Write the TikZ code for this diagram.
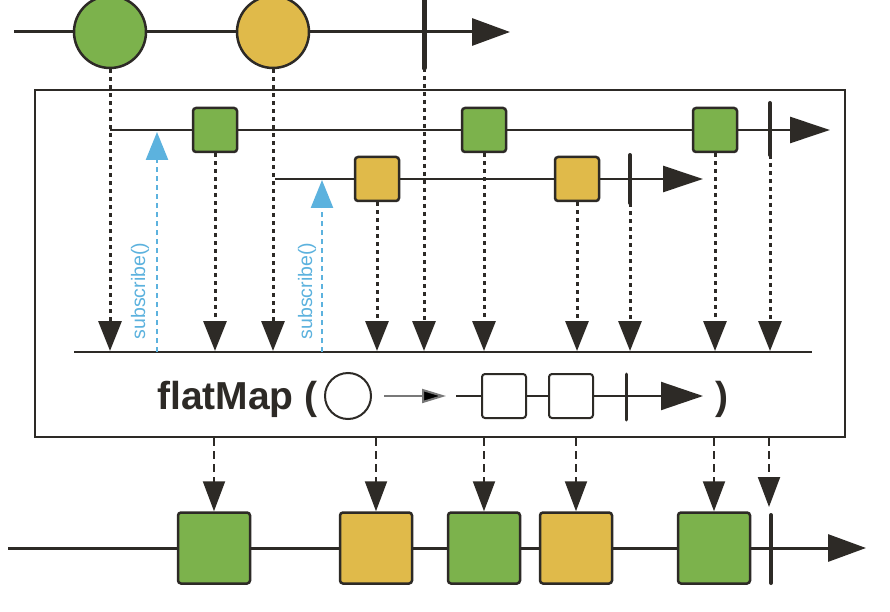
\documentclass[tikz,border=0pt]{standalone}
\usepackage{fontspec}
\setmainfont{Liberation Sans}
\usetikzlibrary{arrows.meta}
\definecolor{ink}{RGB}{45,42,38}
\definecolor{mgreen}{RGB}{124,178,76}
\definecolor{myellow}{RGB}{224,186,74}
\definecolor{mblue}{RGB}{92,178,222}
\definecolor{mgray}{RGB}{120,120,120}
\tikzset{
  axis/.style={draw=ink, line width=3pt},
  bigtip/.style={-{Triangle[width=27pt,length=38pt]}},
  midtip/.style={-{Triangle[width=26pt,length=40pt]}},
  ball/.style={circle, draw=ink, line width=2.5pt, minimum size=72pt, inner sep=0pt},
  sq/.style={rectangle, rounded corners=3pt, draw=ink, line width=2.5pt, minimum size=44pt, inner sep=0pt},
  bigsq/.style={rectangle, rounded corners=3pt, draw=ink, line width=2.5pt, minimum width=72pt, minimum height=71pt, inner sep=0pt},
  endbar/.style={draw=ink, line width=5pt, line cap=round},
  dotarr/.style={draw=ink, line width=3pt, dash pattern=on 4pt off 4pt, -{Triangle[width=23pt,length=30pt]}, shorten >=1pt},
  dasharr/.style={draw=ink, line width=2pt, dash pattern=on 8pt off 5pt, -{Triangle[width=22pt,length=30pt]}},
  subarr/.style={draw=mblue, line width=2.5pt, dash pattern=on 5pt off 4pt, -{Triangle[width=22pt,length=28pt,fill=mblue]}},
  sublabel/.style={text=mblue, font=\fontsize{19.5}{21}\selectfont, rotate=90, inner sep=0pt},
  fmtext/.style={text=ink, font=\bfseries\fontsize{39}{42}\selectfont, inner sep=0pt},
}
\begin{document}
\begin{tikzpicture}[x=1pt,y=-1pt]
\useasboundingbox (0,0) rectangle (890,612);
\fill[white] (0,0) rectangle (890,612);

% ---- top source stream
\coordinate (tstart) at (14,32);
\coordinate (tend) at (510,32);
\draw[axis, bigtip] (tstart) -- (tend);
\node[ball, fill=mgreen] (c1) at (110,32) {};
\node[ball, fill=myellow] (c2) at (273,32) {};
\coordinate (tbtop) at (424,0);
\coordinate (tb) at (424,68);
\draw[endbar] (tbtop) -- (tb);

% ---- operator box
\node[draw=ink, line width=2pt, minimum width=810pt, minimum height=347pt, inner sep=0pt] (box) at (440,263.5) {};

% inner stream 1
\coordinate (l1s) at (110,130);
\coordinate (l1e) at (830,130);
\draw[axis, line width=2.5pt, midtip] (l1s) -- (l1e);
\node[sq, fill=mgreen] (g1) at (215,130) {};
\node[sq, fill=mgreen] (g2) at (484,130) {};
\node[sq, fill=mgreen] (g3) at (715,130) {};
\coordinate (b1t) at (770,103);
\coordinate (b1) at (770,155);
\draw[endbar, line width=4pt] (b1t) -- (b1);

% inner stream 2
\coordinate (l2s) at (275,179);
\coordinate (l2e) at (703,179);
\draw[axis, line width=2.5pt, midtip] (l2s) -- (l2e);
\node[sq, fill=myellow] (y1) at (377,179) {};
\node[sq, fill=myellow] (y2) at (577,179) {};
\coordinate (b2t) at (630,155);
\coordinate (b2) at (630,203);
\draw[endbar, line width=4pt] (b2t) -- (b2);

% merge line
\coordinate (mls) at (74,352);
\coordinate (mle) at (812,352);
\draw[axis, line width=2.5pt] (mls) -- (mle);

% dotted arrows to merge line
\draw[dotarr] (c1.south) -- (c1 |- mls);
\draw[dotarr] (g1.south) -- (g1 |- mls);
\draw[dotarr] (c2.south) -- (c2 |- mls);
\draw[dotarr] (y1.south) -- (y1 |- mls);
\draw[dotarr] (tb) -- (tb |- mls);
\draw[dotarr] (g2.south) -- (g2 |- mls);
\draw[dotarr] (y2.south) -- (y2 |- mls);
\draw[dotarr] (b2) -- (b2 |- mls);
\draw[dotarr] (g3.south) -- (g3 |- mls);
\draw[dotarr] (b1) -- (b1 |- mls);

% subscribe arrows
\coordinate (s1b) at (157,352);
\coordinate (s1t) at (157,132);
\draw[subarr] (s1b) -- (s1t);
\node[sublabel] (sl1) at (140,291) {subscribe()};
\coordinate (s2b) at (322,352);
\coordinate (s2t) at (322,180);
\draw[subarr] (s2b) -- (s2t);
\node[sublabel] (sl2) at (307,291) {subscribe()};

% flatMap legend
\node[fmtext, anchor=base west] (fm) at (157,409) {flatMap (};
\node[circle, draw=ink, line width=2pt, fill=white, minimum size=46pt, inner sep=0pt] (lc) at (348,396) {};
\coordinate (la1) at (384,396);
\coordinate (la2) at (446,396);
\draw[draw=mgray, line width=2pt, -{Triangle[width=14pt,length=24pt,fill=black]}] (la1) -- (la2);
\coordinate (ms) at (456,396);
\coordinate (me) at (703,396);
\draw[axis, line width=2pt, -{Triangle[width=28pt,length=42pt]}] (ms) -- (me);
\node[sq, fill=white, line width=2pt] (w1) at (504,396) {};
\node[sq, fill=white, line width=2pt] (w2) at (571,396) {};
\coordinate (lbt) at (626,374);
\coordinate (lbb) at (626,420);
\draw[endbar, line width=3pt] (lbt) -- (lbb);
\node[fmtext, anchor=base] (rp) at (722,409) {)};

% ---- output stream
\coordinate (os) at (8,548);
\coordinate (oe) at (866,548);
\draw[axis, bigtip] (os) -- (oe);
\node[bigsq, fill=mgreen] (o1) at (214,548) {};
\node[bigsq, fill=myellow] (o2) at (376,548) {};
\node[bigsq, fill=mgreen] (o3) at (484,548) {};
\node[bigsq, fill=myellow] (o4) at (576,548) {};
\node[bigsq, fill=mgreen] (o5) at (714,548) {};
\coordinate (obt) at (771,515);
\coordinate (obb) at (771,583);
\draw[endbar, line width=4pt] (obt) -- (obb);

% dashed arrows out of the box
\draw[dasharr] (o1.north |- box.south) -- (o1.north);
\draw[dasharr] (o2.north |- box.south) -- (o2.north);
\draw[dasharr] (o3.north |- box.south) -- (o3.north);
\draw[dasharr] (o4.north |- box.south) -- (o4.north);
\draw[dasharr] (o5.north |- box.south) -- (o5.north);
\coordinate (obtop) at (769,507);
\draw[dasharr] (obtop |- box.south) -- (obtop);
\end{tikzpicture}
\end{document}
